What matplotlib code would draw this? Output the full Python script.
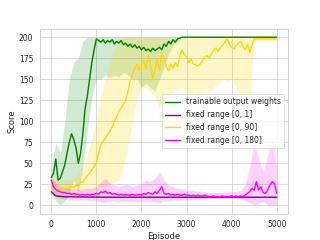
import numpy as np
import matplotlib
matplotlib.use('Agg')
import matplotlib.pyplot as plt
import seaborn as sns

sns.set_theme(style='whitegrid')
plt.rcParams['font.family'] = ['DejaVu Sans']

# episodes for the mean curves (every 50) and for the bands (every 100)
ep = np.arange(0, 5001, 50)
ep_band = np.arange(0, 5001, 100)

labels = ['trainable output weights', 'fixed range [0, 1]',
          'fixed range [0, 90]', 'fixed range [0, 180]']

green_mean = [33, 38, 55, 30, 32, 40, 48, 62, 75, 85, 78, 68, 50, 62, 85, 115, 130, 150, 170, 185, 198,
              196, 194, 197, 193, 196, 194, 197, 192, 195, 193, 196, 191, 193, 189, 192, 188, 191, 187, 189, 185,
              188, 184, 186, 183, 187, 184, 186, 188, 185, 192, 189, 195, 192, 197, 194, 198, 199, 200,
              200, 200, 200, 200, 200, 200, 200, 200, 200, 200, 200, 200, 200, 200, 200, 200, 200, 200, 200, 200, 200,
              200, 200, 200, 200, 200, 200, 200, 200, 200, 200, 200, 200, 200, 200, 200, 200, 200, 200, 200, 200, 200]
green_lo = [15, 5, 0, 5, 15, 30, 15, 45, 90, 130, 150, 150, 155, 152, 155, 153, 158, 155, 150, 150, 140,
            145, 140, 135, 150, 165, 180, 190, 195, 200, 200, 200, 200, 200, 200, 200, 200, 200, 200, 200, 200,
            200, 200, 200, 200, 200, 200, 200, 200, 200, 200]
green_hi = [45, 75, 60, 100, 150, 170, 175, 195, 200, 200, 200, 200, 200, 200, 200, 200, 200, 200, 200, 200, 200,
            200, 200, 200, 200, 200, 200, 200, 200, 200, 200, 200, 200, 200, 200, 200, 200, 200, 200, 200, 200,
            200, 200, 200, 200, 200, 200, 200, 200, 200, 200]

purple_mean = [16, 11, 10.5, 10, 10, 10, 9.8, 9.8, 9.7, 9.7, 9.6, 9.6, 9.6, 9.6, 9.5, 9.5, 9.5, 9.5, 9.5, 9.5, 9.5,
               9.5, 9.5, 9.5, 9.5, 9.5, 9.5, 9.5, 9.5, 9.5, 9.5, 9.5, 9.5, 9.5, 9.5, 9.5, 9.5, 9.5, 9.5, 9.5, 9.5,
               9.5, 9.5, 9.5, 9.5, 9.5, 9.5, 9.5, 9.5, 9.5, 9.5]

gold_mean = [28, 22, 20, 21, 19, 20, 19, 21, 20, 22, 21, 24, 23, 27, 28, 32, 35, 38, 42, 46, 50,
             62, 72, 76, 80, 84, 88, 93, 100, 105, 112, 116, 120, 125, 135, 148, 155, 163, 168, 160, 166,
             172, 162, 178, 170, 150, 162, 174, 160, 180, 176, 165, 160, 168, 163, 170, 165, 178, 185, 180, 176,
             170, 174, 168, 167, 166, 168, 172, 176, 178, 175, 180, 184, 187, 183, 188, 190, 194, 198, 192, 188,
             186, 190, 193, 195, 190, 185, 192, 182, 190, 198, 198, 198, 198, 198, 198, 198, 198, 198, 198, 198]
gold_lo = [10, 10, 10, 12, 12, 13, 14, 15, 15, 17, 18, 20, 22, 25, 28, 30, 45, 70, 100, 125, 140,
           140, 135, 130, 115, 125, 130, 135, 138, 140, 135, 130, 138, 120, 140, 135, 140, 145, 150, 148, 150,
           140, 130, 125, 122, 196, 196, 196, 196, 196, 196]
gold_hi = [35, 30, 30, 30, 30, 32, 38, 45, 60, 80, 100, 130, 150, 170, 185, 195, 200, 200, 200, 200, 200,
           200, 200, 200, 200, 200, 200, 200, 200, 200, 200, 200, 200, 200, 200, 200, 200, 200, 200, 200, 200,
           200, 200, 200, 200, 200, 200, 200, 200, 200, 200]

magenta_mean = [30, 22, 19, 17, 16, 15, 15, 14, 14, 13, 14, 13, 13, 12, 13, 12, 13, 12, 13, 13, 14,
                13, 16, 15, 17, 14, 15, 13, 14, 13, 12, 13, 12, 13, 12, 12, 13, 12, 12, 13, 12,
                14, 13, 15, 14, 13, 16, 14, 18, 22, 14, 13, 14, 12, 13, 12, 13, 12, 12, 13, 12,
                12, 11, 12, 11, 12, 11, 11, 12, 11, 10, 10, 11, 10, 10, 10, 11, 10, 10, 10, 11,
                10, 11, 10, 11, 10, 12, 14, 16, 20, 18, 28, 18, 22, 15, 14, 18, 24, 28, 26, 14]
magenta_lo = [18, 10, 8, 7, 6, 6, 6, 6, 6, 5, 5, 4, 3, 5, 5, 4, 5, 5, 5, 4, 5,
              5, 4, 4, 3, 5, 5, 6, 6, 6, 6, 7, 7, 7, 7, 8, 8, 8, 8, 8, 8,
              8, 8, 5, 3, 0, 2, 5, 0, 0, 0]
magenta_hi = [32, 26, 22, 20, 20, 20, 19, 19, 20, 20, 22, 28, 32, 26, 24, 22, 24, 25, 22, 24, 26,
              30, 28, 32, 40, 30, 24, 22, 20, 20, 18, 18, 17, 17, 16, 15, 15, 15, 15, 16, 16,
              16, 18, 25, 45, 75, 55, 40, 60, 80, 45]

fig, ax = plt.subplots(figsize=(6.4, 4.8))

ax.fill_between(ep_band, green_lo, green_hi, color='green', alpha=0.18, lw=0)
ax.plot(ep, green_mean, color='green', lw=2, label=labels[0])

ax.plot(ep_band, purple_mean, color='purple', lw=2, label=labels[1])

ax.fill_between(ep_band, gold_lo, gold_hi, color='gold', alpha=0.22, lw=0)
ax.plot(ep, gold_mean, color='gold', lw=2, label=labels[2])

ax.fill_between(ep_band, magenta_lo, magenta_hi, color='magenta', alpha=0.18, lw=0)
ax.plot(ep, magenta_mean, color='magenta', lw=2, label=labels[3])

ax.set_xlabel('Episode')
ax.set_ylabel('Score')
ax.legend(loc='center right')

fig.savefig('out.png', dpi=50)
